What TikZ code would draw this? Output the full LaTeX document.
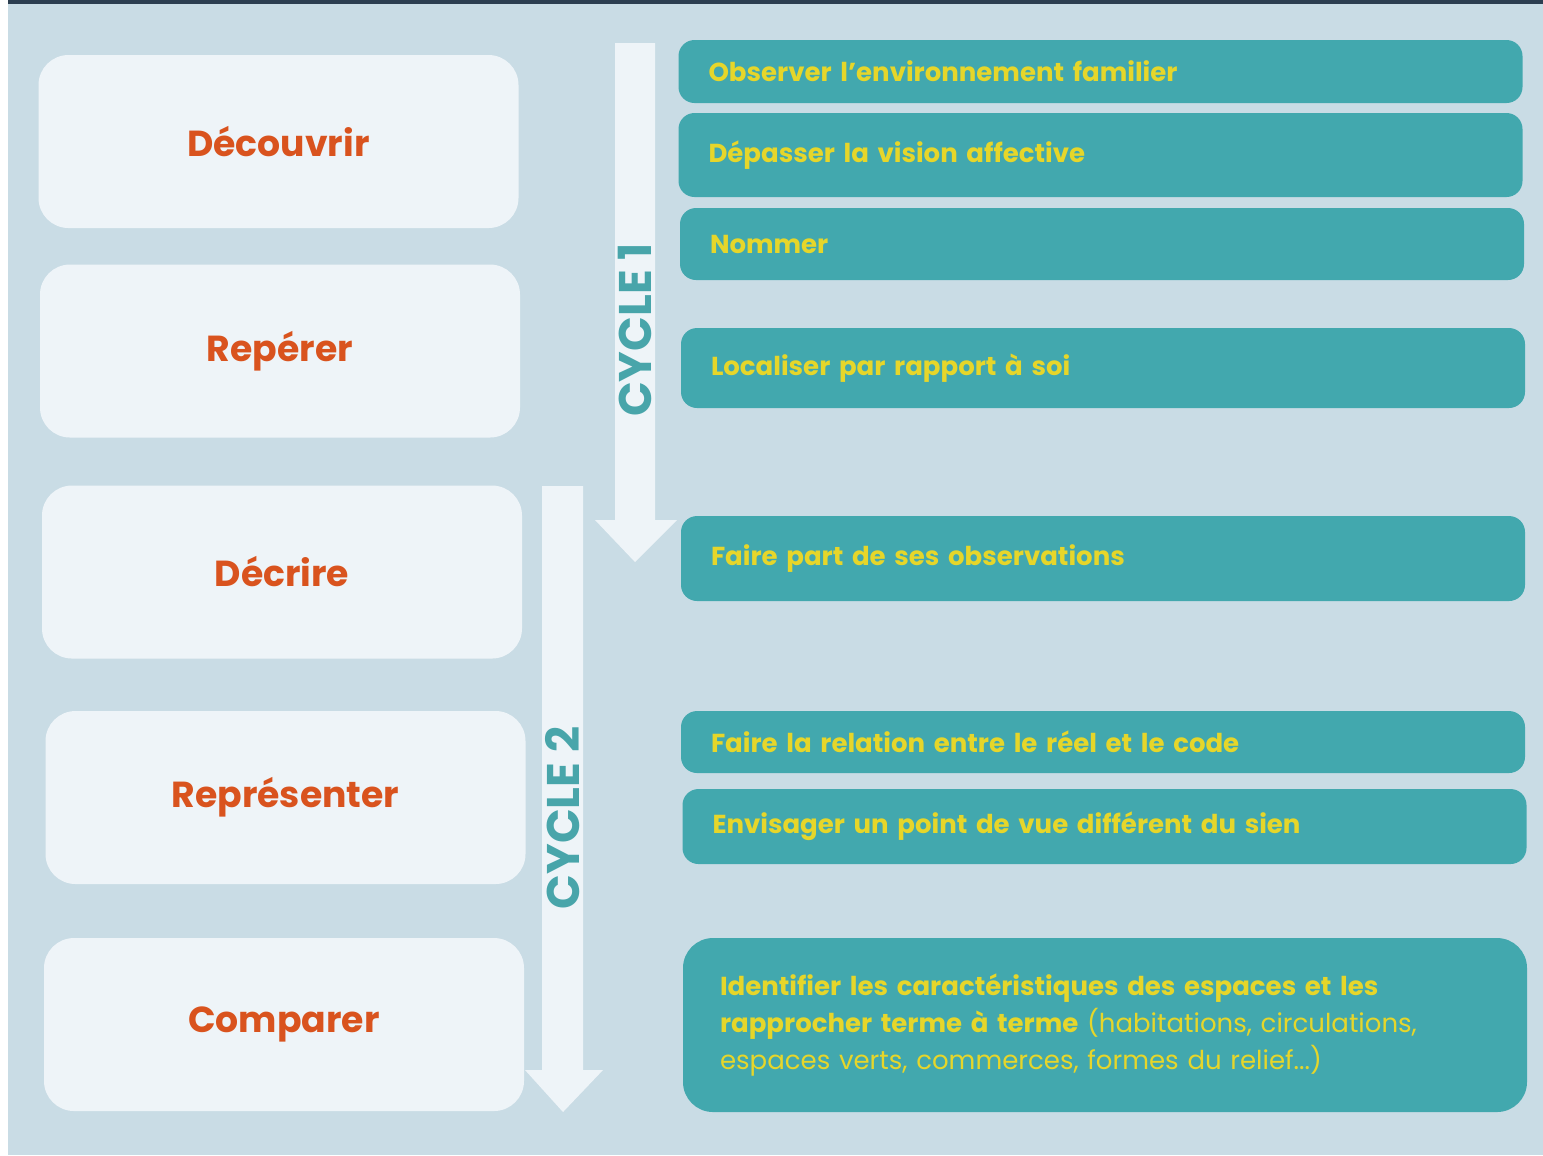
\documentclass[tikz,border=0pt]{standalone}
\usepackage{fontspec}
\setmainfont{Poppins}
\usetikzlibrary{positioning,calc}

\definecolor{fond}{RGB}{201,220,229}
\definecolor{pale}{RGB}{238,244,248}
\definecolor{sarcelle}{RGB}{66,168,174}
\definecolor{brique}{RGB}{217,83,30}
\definecolor{jaune}{RGB}{230,214,42}
\definecolor{bandeau}{RGB}{44,62,80}
\definecolor{cyclecol}{RGB}{72,165,170}

\begin{document}
\begin{tikzpicture}[x=0.1mm, y=-0.1mm,
    etape/.style={rectangle, rounded corners=3mm, fill=pale, minimum width=48mm,
                  minimum height=17.3mm, text=brique, font=\bfseries\fontsize{10.3}{12}\selectfont},
    objectif/.style={rectangle, rounded corners=1.6mm, fill=sarcelle, minimum width=84.4mm,
                  text width=78.4mm, inner xsep=3mm, align=left, text=jaune,
                  font=\bfseries\fontsize{7.4}{10.5}\selectfont},
    cycle/.style={rotate=90, text=cyclecol, font=\bfseries\fontsize{13}{13}\selectfont}]

    % fond et bandeau
    \useasboundingbox (0,0) rectangle (1543,1155);
    \fill[white]   (0,0) rectangle (1543,1155);
    \fill[fond]    (8,4) rectangle (1543,1155);
    \fill[bandeau] (8,0) rectangle (1543,4);

    % grandes fleches des cycles
    \fill[pale] (615,43) -- (655,43) -- (655,520) -- (677,520) -- (635,562)
                -- (595,520) -- (615,520) -- cycle;
    \fill[pale] (542,486) -- (583,486) -- (583,1070) -- (603,1070) -- (563,1112)
                -- (525,1070) -- (542,1070) -- cycle;
    \node[cycle] (cycle1) at (635,330) {CYCLE 1};
    \node[cycle] (cycle2) at (563,818) {CYCLE 2};

    % etapes
    \node[etape] (decouvrir)   at (278.5,141.5) {Découvrir};
    \node[etape] (reperer)     at (280,351)     {Repérer};
    \node[etape] (decrire)     at (282,572)     {Décrire};
    \node[etape] (representer) at (285.5,797.5) {Représenter};
    \node[etape] (comparer)    at (284,1024.5)  {Comparer};

    % objectifs
    \node[objectif, minimum height=6.3mm] (observer)   at (1100.5,71.5)  {Observer l’environnement familier};
    \node[objectif, minimum height=8.4mm] (depasser)   at (1100.5,155)   {Dépasser la vision affective};
    \node[objectif, minimum height=7.2mm] (nommer)     at (1102,244)     {Nommer};
    \node[objectif, minimum height=8mm]   (localiser)  at (1103,368)     {Localiser par rapport à soi};
    \node[objectif, minimum height=8.5mm] (fairepart)  at (1103,558.5)   {Faire part de ses observations};
    \node[objectif, minimum height=6.2mm] (relation)   at (1103,742)     {Faire la relation entre le réel et le code};
    \node[objectif, minimum height=7.5mm] (envisager)  at (1104.5,826.5) {Envisager un point de vue différent du sien};
    \node[objectif, minimum height=17.4mm, rounded corners=3mm, inner xsep=3.7mm,
          text width=77mm] (identifier) at (1105,1025)
        {Identifier les caractéristiques des espaces et les\\
         rapprocher terme à terme {\mdseries(habitations, circulations,}\\
         {\mdseries espaces verts, commerces, formes du relief...)}};
\end{tikzpicture}
\end{document}
